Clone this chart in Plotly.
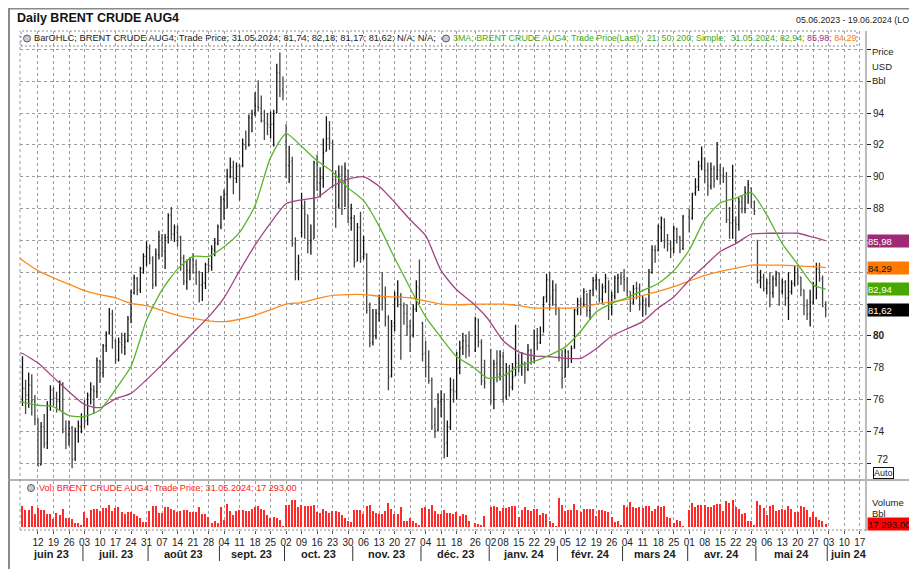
import numpy as np
import pandas as pd
import plotly.graph_objects as go

# page body has an 8px margin: work in page pixels, convert with offset
OX, OY = 8, 8
W, H = 917 - OX, 569 - OY

# ---------------- data ----------------
holidays = ["2023-12-25", "2024-01-01", "2024-03-29"]
trade_dates = pd.bdate_range("2023-06-05", "2024-05-31")
trade_dates = trade_dates[~trade_dates.isin(pd.to_datetime(holidays))]

opens = [
    # Jun 23
    76.10, 76.70, 76.30, 76.90, 75.90, 74.70, 71.90, 74.30, 73.30, 75.60, 76.60, 76.10, 75.90, 77.00, 74.20, 73.80, 74.20, 72.30, 74.00, 74.30,
    # Jul 23
    74.90, 74.70, 76.30, 76.60, 76.50, 78.40, 77.70, 79.40, 80.20, 81.40, 79.70, 78.50, 79.60, 79.30, 79.70, 81.20, 82.70, 83.60, 82.90, 84.20, 85.00,
    # Aug 23
    85.50, 84.80, 83.30, 85.10, 86.10, 85.30, 86.20, 87.60, 86.40, 86.50, 86.20, 84.90, 83.40, 84.10, 84.80, 84.50, 84.00, 83.20, 83.30, 84.50, 84.40, 85.40, 85.80,
    # Sep 23
    86.90, 88.60, 88.90, 90.00, 90.60, 89.90, 90.70, 90.70, 92.00, 92.00, 93.70, 94.00, 94.40, 94.30, 93.50, 93.40, 93.10, 93.30, 94.00, 96.50, 95.50,
    # Oct 23
    92.20, 90.70, 91.00, 85.80, 84.10, 86.50, 88.10, 87.60, 85.90, 86.10, 90.80, 89.60, 89.90, 91.60, 92.40, 92.10, 89.80, 88.20, 90.10, 88.00, 90.40, 87.40,
    # Nov 23
    87.40, 84.70, 86.80, 85.00, 85.10, 81.80, 79.60, 80.00, 81.40, 82.50, 82.40, 81.10, 77.50, 80.80, 82.40, 82.50, 81.90, 81.40, 80.60, 80.10, 81.70, 83.00,
    # Dec 23
    80.80, 78.90, 78.10, 77.20, 74.40, 74.10, 75.90, 76.00, 73.30, 74.30, 76.60, 76.50, 78.00, 79.30, 79.70, 79.40, 79.10, 81.00, 79.60, 77.20,
    # Jan 24
    77.10, 76.00, 78.30, 77.60, 78.70, 76.20, 77.60, 76.80, 77.50, 78.30, 78.20, 78.30, 77.90, 79.10, 78.60, 80.00, 79.60, 80.10, 82.50, 83.50, 82.50, 82.90,
    # Feb 24
    81.70, 78.80, 77.40, 79.00, 78.60, 79.30, 81.60, 82.20, 82.00, 82.80, 81.60, 82.90, 83.50, 83.50, 82.30, 83.10, 83.60, 81.80, 82.50, 83.60, 83.70,
    # Mar 24
    83.70, 83.40, 82.80, 82.10, 83.00, 83.00, 82.00, 82.20, 82.00, 84.00, 85.40, 85.40, 86.80, 87.30, 86.00, 85.80, 85.50, 86.70, 86.20, 85.50,
    # Apr 24
    87.50, 87.40, 89.00, 89.40, 90.70, 91.10, 90.40, 89.40, 90.50, 90.00, 90.40, 90.10, 90.00, 87.30, 87.10, 87.20, 87.00, 88.40, 88.00, 89.00, 89.30, 88.40,
    # May 24
    86.00, 83.50, 83.70, 83.00, 83.30, 82.70, 83.60, 83.90, 82.80, 83.40, 82.40, 82.80, 83.30, 84.00, 83.70, 82.90, 81.90, 81.40, 82.10, 83.20, 84.20, 83.60, 81.74,
]
highs = [
    78.73, 77.25, 77.70, 77.60, 76.30, 74.85, 74.60, 75.10, 75.90, 76.90, 76.80, 76.50, 77.20, 77.10, 74.70, 74.70, 74.35, 74.25, 74.70, 75.15,
    76.00, 76.45, 77.10, 76.90, 78.65, 78.50, 79.50, 80.30, 81.75, 81.65, 79.80, 79.90, 80.20, 80.20, 81.25, 82.90, 83.85, 83.70, 84.35, 85.20, 85.95,
    85.75, 85.00, 85.50, 86.60, 86.40, 86.40, 87.70, 88.10, 87.00, 86.95, 86.30, 85.10, 84.80, 84.95, 85.20, 84.80, 84.10, 84.00, 84.60, 84.90, 85.70, 86.15, 87.00,
    88.80, 89.20, 90.50, 91.20, 91.00, 90.90, 90.80, 92.40, 92.90, 93.90, 94.20, 95.30, 96.05, 95.10, 94.20, 94.00, 94.10, 94.20, 97.10, 97.80, 96.30,
    93.30, 91.95, 91.25, 86.20, 85.10, 89.00, 88.50, 87.60, 87.00, 91.00, 91.40, 90.60, 92.40, 93.80, 93.50, 92.30, 90.40, 90.70, 90.70, 90.90, 90.40, 88.30,
    87.60, 87.10, 87.80, 86.30, 85.20, 82.10, 81.70, 81.70, 82.60, 84.00, 83.10, 81.30, 81.00, 82.80, 83.50, 82.70, 82.10, 82.00, 81.00, 82.00, 83.50, 84.80,
    80.90, 79.70, 79.10, 77.40, 75.50, 76.40, 76.60, 76.40, 74.70, 77.40, 77.30, 79.00, 79.70, 80.20, 80.10, 80.30, 81.20, 81.10, 79.80, 78.50,
    79.20, 78.50, 79.10, 79.10, 79.00, 78.30, 78.20, 78.30, 80.70, 78.90, 79.00, 78.40, 79.50, 79.20, 80.40, 80.50, 80.60, 82.50, 83.90, 84.00, 83.50, 83.30,
    81.80, 79.10, 79.20, 79.10, 79.40, 81.70, 82.40, 82.40, 83.00, 82.70, 82.90, 83.70, 83.90, 83.60, 83.30, 83.90, 83.50, 82.80, 83.80, 83.90, 84.00,
    84.20, 83.70, 82.80, 83.20, 83.40, 83.30, 82.50, 82.40, 84.20, 85.70, 85.70, 87.00, 87.50, 87.40, 86.40, 86.00, 86.90, 86.80, 86.30, 87.60,
    88.00, 89.00, 89.90, 91.00, 91.90, 91.20, 90.90, 90.90, 90.70, 92.18, 90.80, 90.60, 90.30, 88.10, 90.75, 87.50, 88.70, 88.80, 89.40, 89.80, 89.30, 88.50,
    86.00, 84.15, 83.90, 83.60, 84.00, 83.80, 84.10, 84.00, 83.60, 83.50, 84.00, 83.50, 84.40, 84.30, 83.70, 82.90, 82.30, 82.90, 83.40, 84.60, 84.60, 83.80, 82.18,
]
lows = [
    75.60, 75.10, 75.50, 75.00, 74.40, 71.84, 71.90, 72.95, 72.90, 75.30, 75.60, 75.20, 75.30, 73.90, 72.90, 73.10, 71.70, 72.15, 73.30, 73.90,
    74.20, 74.40, 75.70, 75.10, 76.10, 77.05, 77.40, 79.00, 80.10, 79.20, 78.25, 78.40, 78.90, 78.80, 79.60, 80.80, 82.60, 82.55, 82.70, 83.90, 84.40,
    84.50, 82.95, 83.10, 84.80, 84.95, 84.20, 85.80, 86.05, 85.90, 85.60, 84.10, 83.20, 82.90, 83.50, 83.90, 83.20, 82.10, 82.20, 82.95, 84.00, 84.10, 85.00, 85.70,
    86.70, 87.30, 88.00, 89.90, 88.90, 89.60, 88.50, 90.60, 91.70, 91.90, 92.80, 93.80, 94.10, 93.40, 92.30, 92.60, 92.40, 91.90, 94.00, 95.00, 94.80,
    89.90, 89.60, 85.60, 83.50, 83.50, 86.20, 86.10, 85.20, 85.10, 86.10, 89.10, 88.70, 89.30, 91.60, 91.70, 89.30, 86.80, 88.00, 87.60, 88.10, 87.10, 86.60,
    84.30, 84.70, 84.60, 84.80, 81.40, 79.30, 79.40, 79.80, 80.90, 81.60, 80.60, 76.60, 77.40, 80.30, 81.80, 78.50, 80.70, 80.00, 79.00, 79.90, 81.50, 82.00,
    78.40, 77.40, 77.00, 74.10, 73.60, 74.00, 74.90, 72.30, 72.40, 74.10, 75.80, 76.00, 77.60, 78.80, 78.60, 78.70, 79.00, 79.30, 76.90, 76.70,
    75.70, 75.40, 77.10, 77.20, 75.80, 76.00, 76.20, 76.60, 77.50, 77.70, 77.50, 77.00, 77.80, 78.20, 78.30, 79.10, 79.50, 80.20, 82.10, 81.60, 81.90, 81.30,
    78.40, 76.70, 77.40, 78.00, 78.30, 79.20, 81.30, 81.30, 81.80, 81.20, 81.00, 82.50, 82.90, 82.10, 82.00, 82.70, 81.00, 81.30, 82.30, 82.70, 83.20,
    82.80, 82.50, 81.50, 82.00, 82.30, 81.60, 81.20, 81.30, 81.80, 83.90, 84.60, 85.30, 85.90, 85.50, 85.30, 84.90, 85.20, 85.80, 85.20, 85.40,
    86.50, 87.30, 88.80, 89.10, 90.40, 89.60, 88.80, 89.20, 89.30, 89.80, 89.50, 89.60, 87.10, 86.10, 86.10, 85.80, 86.60, 87.70, 87.70, 88.30, 88.00, 87.60,
    83.30, 83.00, 82.80, 82.60, 81.80, 82.40, 83.10, 81.90, 82.60, 81.90, 81.00, 82.60, 83.10, 83.20, 82.50, 81.30, 81.00, 80.60, 82.00, 82.30, 83.40, 81.80, 81.17,
]
closes = [
    76.71, 76.29, 76.95, 75.96, 74.79, 71.84, 74.29, 73.20, 75.67, 76.61, 76.09, 75.90, 77.12, 74.14, 73.85, 74.18, 72.26, 74.03, 74.34, 74.90,
    74.65, 76.25, 76.65, 76.52, 78.47, 77.69, 79.40, 80.11, 81.36, 79.87, 78.50, 79.63, 79.46, 79.64, 81.07, 82.74, 83.64, 82.92, 84.24, 84.99, 85.56,
    84.91, 83.20, 85.14, 86.24, 85.34, 86.17, 87.55, 86.40, 86.81, 86.21, 84.89, 83.45, 84.12, 84.80, 84.46, 84.03, 83.21, 83.36, 84.48, 84.42, 85.49, 85.86, 86.86,
    88.55, 88.90, 90.04, 90.60, 89.92, 90.65, 90.64, 92.06, 91.88, 93.70, 93.93, 94.43, 94.34, 93.53, 93.30, 93.27, 93.29, 93.96, 96.55, 95.38, 95.31,
    90.71, 90.92, 85.81, 84.07, 84.58, 88.15, 87.65, 85.82, 86.00, 90.89, 89.65, 89.90, 91.50, 92.38, 92.16, 89.83, 88.07, 90.13, 87.93, 90.48, 87.45, 87.41,
    84.63, 86.85, 84.89, 85.18, 81.61, 79.54, 80.01, 81.43, 82.52, 82.47, 81.18, 77.42, 80.61, 82.32, 82.45, 81.96, 81.42, 80.58, 79.98, 81.68, 83.10, 82.83,
    78.88, 78.03, 77.20, 74.30, 74.05, 75.84, 76.03, 73.24, 74.26, 76.61, 76.55, 77.95, 79.23, 79.70, 79.39, 79.07, 81.07, 79.65, 77.15, 77.04,
    75.89, 78.25, 77.59, 78.76, 76.12, 77.59, 76.80, 77.41, 78.29, 78.15, 78.29, 77.88, 79.10, 78.56, 80.06, 79.55, 80.04, 82.43, 83.55, 82.40, 82.87, 81.71,
    78.70, 77.33, 78.99, 78.59, 79.21, 81.63, 82.19, 82.00, 82.77, 81.60, 82.86, 83.47, 83.56, 82.34, 83.03, 83.67, 81.62, 82.53, 83.65, 83.68, 83.62,
    83.55, 82.80, 82.04, 82.96, 82.96, 82.08, 82.21, 81.92, 84.03, 85.42, 85.34, 86.89, 87.38, 85.95, 85.78, 85.43, 86.75, 86.25, 85.41, 87.48,
    87.42, 88.92, 89.35, 90.65, 91.17, 90.38, 89.42, 90.48, 89.74, 90.45, 90.10, 90.02, 87.29, 87.11, 87.29, 87.00, 88.42, 88.02, 89.01, 89.50, 88.40, 87.86,
    83.44, 83.67, 82.96, 83.33, 82.69, 83.58, 83.88, 82.79, 83.36, 82.38, 82.75, 83.27, 83.98, 83.71, 82.88, 81.90, 81.36, 82.12, 83.10, 84.22, 83.60, 81.86, 81.62,
]
volumes = [
    105000, 85000, 85000, 105000, 65000, 95000, 85000, 85000, 65000, 65000, 40000, 70000, 60000, 90000, 45000, 45000, 40000, 20000, 20000, 10000,
    75000, 45000, 85000, 90000, 90000, 80000, 95000, 95000, 110000, 80000, 95000, 100000, 75000, 65000, 75000, 75000, 65000, 55000, 45000, 25000, 25000,
    80000, 105000, 105000, 70000, 70000, 100000, 100000, 90000, 85000, 75000, 80000, 85000, 85000, 75000, 75000, 75000, 100000, 65000, 65000, 50000, 20000, 30000, 20000,
    100000, 35000, 115000, 80000, 60000, 80000, 85000, 85000, 80000, 80000, 90000, 100000, 105000, 90000, 85000, 60000, 45000, 50000, 45000, 35000, 5000,
    110000, 110000, 135000, 135000, 100000, 110000, 105000, 105000, 105000, 110000, 75000, 70000, 90000, 80000, 70000, 80000, 80000, 75000, 60000, 45000, 30000, 25000,
    85000, 85000, 85000, 65000, 105000, 110000, 80000, 70000, 65000, 65000, 80000, 120000, 90000, 65000, 65000, 100000, 30000, 30000, 45000, 30000, 20000, 10000,
    95000, 100000, 90000, 110000, 80000, 65000, 65000, 85000, 70000, 70000, 65000, 75000, 55000, 65000, 60000, 30000, 20000, 15000, 10000, 55000,
    100000, 105000, 100000, 80000, 95000, 95000, 100000, 105000, 105000, 50000, 85000, 100000, 85000, 80000, 90000, 90000, 60000, 70000, 65000, 30000, 20000, 5000,
    145000, 110000, 80000, 85000, 85000, 115000, 85000, 75000, 90000, 90000, 90000, 90000, 55000, 85000, 85000, 80000, 75000, 50000, 25000, 30000, 10000,
    110000, 100000, 125000, 100000, 95000, 100000, 95000, 105000, 105000, 80000, 90000, 105000, 100000, 105000, 50000, 45000, 20000, 35000, 30000, 5000,
    85000, 120000, 100000, 110000, 110000, 110000, 100000, 100000, 110000, 115000, 115000, 80000, 130000, 120000, 135000, 100000, 90000, 65000, 70000, 30000, 30000, 10000,
    130000, 110000, 95000, 60000, 105000, 110000, 80000, 85000, 90000, 85000, 105000, 90000, 75000, 75000, 105000, 100000, 85000, 50000, 75000, 50000, 35000, 30000, 17293,
]

# moving averages (weekly, plus left edge and last day)
ma_dates = (["2023-06-02"]
            + [d.strftime("%Y-%m-%d") for d in pd.date_range("2023-06-05", "2024-05-27", freq="W-MON")]
            + ["2024-05-31"])
ma21 = [75.9,
        75.85, 75.65, 75.55, 75.0, 74.95, 75.35, 76.65, 78.1, 81.0, 82.9, 84.2, 85.0, 85.0, 85.6, 86.5, 88.2,
        91.2, 92.7, 91.9, 91.0, 90.3, 89.3, 88.5, 86.9, 84.9, 83.0, 81.2, 79.9, 78.7, 78.1, 77.35, 77.5,
        78.1, 78.4, 78.8, 79.3, 80.3, 81.5, 82.05, 82.4, 82.85, 83.3, 84.1, 85.4, 87.3, 88.35, 88.65, 89.0,
        87.6, 85.8, 84.5, 83.2, 82.94]
ma50 = [78.95,
        78.9, 78.3, 77.4, 76.5, 75.7, 75.5, 76.05, 76.4, 77.25, 78.2, 79.2, 80.2, 81.2, 82.4, 84.1, 85.7,
        87.1, 88.3, 88.55, 88.7, 89.4, 89.85, 90.0, 89.4, 88.4, 87.3, 86.3, 84.1, 82.9, 82.1, 81.1, 79.7,
        79.0, 78.75, 78.7, 78.6, 78.6, 79.2, 80.0, 80.45, 80.9, 81.75, 82.45, 83.5, 84.4, 85.3, 85.8, 86.4,
        86.45, 86.45, 86.45, 86.2, 85.98]
ma200 = [84.9,
         84.75, 84.1, 83.65, 83.25, 82.85, 82.6, 82.4, 82.05, 81.9, 81.6, 81.3, 81.1, 80.95, 80.9, 81.05, 81.3,
         81.65, 82.0, 82.1, 82.35, 82.55, 82.6, 82.6, 82.5, 82.45, 82.4, 82.2, 82.0, 81.95, 82.0, 82.0, 82.0,
         81.9, 81.75, 81.75, 81.75, 81.8, 82.0, 82.15, 82.3, 82.55, 82.8, 83.1, 83.45, 83.8, 84.05, 84.25, 84.45,
         84.45, 84.45, 84.4, 84.35, 84.29]

price_ticks = [72, 74, 76, 78, 80, 82, 84, 86, 88, 90, 92, 94, 96, 98]
price_tick_text = ["", "74", "76", "78", "<b>80</b>", "", "", "", "88", "90", "92", "94", "", ""]
month_labels = ["juin 23", "juil. 23", "août 23", "sept. 23", "oct. 23", "nov. 23", "déc. 23",
                "janv. 24", "févr. 24", "mars 24", "avr. 24", "mai 24", "juin 24"]
month_starts = ["2023-06-05", "2023-07-03", "2023-08-01", "2023-09-01", "2023-10-02", "2023-11-01",
                "2023-12-01", "2024-01-02", "2024-02-01", "2024-03-01", "2024-04-01", "2024-05-01", "2024-06-03"]

# ---------------- helpers ----------------
ORIGIN = np.datetime64("2023-06-05")


def slot(d):
    return int(np.busday_count(ORIGIN, np.datetime64(pd.Timestamp(d).date())))


xs = [slot(d) for d in trade_dates]
ma_x = [slot(d) for d in ma_dates]

hol = set(pd.to_datetime(holidays))
tick_slots, tick_text = [], []
for mon in pd.date_range("2023-06-12", "2024-06-17", freq="W-MON"):
    d = mon + pd.Timedelta(days=1) if mon in hol else mon
    tick_slots.append(slot(d))
    tick_text.append(d.strftime("%d"))

XR = [-0.8, 272]


def py(p):
    return 1 - (p - OY) / H


def pxx(p):
    return (p - OX) / W


FONT = "Arial, Liberation Sans, sans-serif"
GRID = "#9c9c9c"
GDASH = "3px,3px"

fig = go.Figure()
fig.add_trace(go.Ohlc(
    x=xs, open=opens, high=highs, low=lows, close=closes,
    increasing=dict(line=dict(color="#111111", width=1.3)),
    decreasing=dict(line=dict(color="#444444", width=1.3)),
    tickwidth=0.3, xaxis="x", yaxis="y", showlegend=False, hoverinfo="skip"))
for vals, col in [(ma200, "#ff8a1c"), (ma50, "#a24486"), (ma21, "#5ab52a")]:
    fig.add_trace(go.Scatter(x=ma_x, y=vals, mode="lines", xaxis="x", yaxis="y",
                             line=dict(color=col, width=1.3, shape="spline", smoothing=0.6),
                             showlegend=False, hoverinfo="skip"))
fig.add_trace(go.Bar(x=xs, y=volumes, width=0.42, marker=dict(color="#ff2a2a", line=dict(width=0)),
                     xaxis="x2", yaxis="y2", showlegend=False, hoverinfo="skip"))

xdom = [pxx(20), pxx(866)]
fig.update_layout(
    width=W, height=H, margin=dict(l=0, r=0, t=0, b=0),
    paper_bgcolor="white", plot_bgcolor="white",
    font=dict(family=FONT, size=10, color="#222222"),
    showlegend=False, bargap=0,
    xaxis=dict(domain=xdom, range=XR, anchor="y", showticklabels=False, tickvals=tick_slots,
               showgrid=True, gridcolor=GRID, griddash=GDASH, gridwidth=1, zeroline=False,
               showline=False, ticks="", rangeslider=dict(visible=False)),
    yaxis=dict(domain=[py(479), py(31)], range=[71.02, 99.15], side="right", anchor="x",
               tickvals=price_ticks, ticktext=price_tick_text, showgrid=True, gridcolor=GRID,
               griddash=GDASH, gridwidth=1, ticks="outside", ticklen=4, tickcolor="#222222",
               tickfont=dict(size=10, color="#222222"), zeroline=False, showline=False),
    xaxis2=dict(domain=xdom, range=XR, anchor="y2", tickvals=tick_slots, ticktext=tick_text,
                tickangle=0, showgrid=True, gridcolor=GRID, griddash=GDASH, gridwidth=1, zeroline=False,
                showline=False, ticks="outside", ticklen=3, tickcolor="#555555",
                tickfont=dict(size=10, color="#222222")),
    yaxis2=dict(domain=[py(530), py(481)], range=[-15000, 230000], anchor="x2",
                showticklabels=False, showgrid=False, zeroline=False, ticks=""),
)

shapes = []
# outer frame lines (page x=8 / y=7)
shapes.append(dict(type="line", xref="paper", yref="paper", x0=pxx(8), x1=1, y0=py(8.5), y1=py(8.5),
                   line=dict(color="#8a8a8a", width=2)))
shapes.append(dict(type="line", xref="paper", yref="paper", x0=pxx(9), x1=pxx(9), y0=0, y1=1,
                   line=dict(color="#8a8a8a", width=2)))
# pane separator
shapes.append(dict(type="line", xref="paper", yref="paper", x0=pxx(8), x1=1, y0=py(480), y1=py(480),
                   line=dict(color="#9a9a9a", width=1.5)))
# right axis separator
shapes.append(dict(type="line", xref="paper", yref="paper", x0=pxx(866), x1=pxx(866), y0=py(531), y1=py(31),
                   line=dict(color="#bcbcbc", width=2)))
# left plot border
shapes.append(dict(type="line", xref="paper", yref="paper", x0=pxx(20), x1=pxx(20), y0=py(530), y1=py(31),
                   line=dict(color=GRID, width=1, dash=GDASH)))
# legend dashed box
shapes.append(dict(type="rect", xref="paper", yref="paper", x0=pxx(21), x1=pxx(857), y0=py(46), y1=py(31),
                   line=dict(color="#8a8a8a", width=1, dash="2px,2px")))
# bottom dotted axis line
shapes.append(dict(type="line", xref="paper", yref="paper", x0=pxx(20), x1=pxx(866), y0=py(530), y1=py(530),
                   line=dict(color="#8a8a8a", width=1, dash="2px,2px")))
# month separators
for ms in month_starts[1:]:
    s = slot(ms) - 0.5
    shapes.append(dict(type="line", xref="x2", yref="paper", x0=s, x1=s, y0=py(561), y1=py(546),
                       line=dict(color="#333333", width=1)))
# legend clock icons
for cx, cy in [(27, 38.5), (446, 38.5), (31, 488)]:
    shapes.append(dict(type="circle", xref="paper", yref="paper", x0=pxx(cx - 3.5), x1=pxx(cx + 3.5),
                       y0=py(cy + 3.5), y1=py(cy - 3.5), fillcolor="#c8ccd4",
                       line=dict(color="#555a66", width=1)))
fig.update_layout(shapes=shapes)

ann = []


def text(x, y, t, size=9, color="#222222", xanchor="left", **kw):
    ann.append(dict(x=pxx(x), y=py(y), xref="paper", yref="paper", text=t, showarrow=False,
                    xanchor=xanchor, yanchor="middle", font=dict(family=FONT, size=size, color=color), **kw))


text(15, 18, "<b>Daily BRENT CRUDE AUG4</b>", size=12.5, color="#111111")
text(794, 20, "05.06.2023 - 19.06.2024 (LOCAL)", size=8.8)
text(32, 38.5,
     "BarOHLC; BRENT CRUDE AUG4; Trade Price; 31.05.2024; 81,74; 82,18; 81,17; 81,62; N/A; N/A;", size=9.3)
text(451, 38.5,
     "<span style='color:#3faa10'>3MA; BRENT CRUDE AUG4; Trade Price(Last);&nbsp; 21; 50; 200; Simple;&nbsp; 31.05.2024; 82,94;</span>"
     " <span style='color:#a0307c'>85,98;</span> <span style='color:#ff7a00'>84,29</span>", size=8.9)
text(37, 488, "Vol; BRENT CRUDE AUG4; Trade Price; 31.05.2024; 17 293,00", size=9.1, color="#ff2020")
text(870, 52, "Price", size=9.5)
text(870, 66, "USD", size=9.5)
text(870, 80, "Bbl", size=9.5)
text(875, 459.5, "72", size=10)
text(870, 502, "Volume", size=9.5)
text(870, 513, "Bbl", size=9.5)
text(873, 473, "Auto", size=9, bordercolor="#111111", borderwidth=1, borderpad=0, bgcolor="white")

# value tags on the right scale
for val, lab, bg, fg, yr in [(85.98, "85,98", "#9c2a76", "white", "y"),
                             (84.29, "84,29", "#ff7b00", "#111111", "y"),
                             (82.94, "82,94", "#46a800", "white", "y"),
                             (81.62, "81,62", "black", "white", "y"),
                             (17293, "17 293,00", "#ff0000", "#111111", "y2")]:
    ann.append(dict(x=pxx(867), y=val, xref="paper", yref=yr, text=lab, showarrow=False,
                    xanchor="left", yanchor="middle", align="left", width=50, height=12,
                    bgcolor=bg, borderpad=0, font=dict(family=FONT, size=9.5, color=fg)))

# month labels
for i, lab in enumerate(month_labels):
    a = slot(month_starts[i]) - 0.5 if i > 0 else XR[0]
    if i + 1 < len(month_labels):
        b = slot(month_starts[i + 1]) - 0.5
        ann.append(dict(x=(a + b) / 2, y=py(553.5), xref="x2", yref="paper", text="<b>%s</b>" % lab,
                        showarrow=False, xanchor="center", yanchor="middle",
                        font=dict(family=FONT, size=11, color="#222222")))
    else:
        ann.append(dict(x=a + 0.3, y=py(553.5), xref="x2", yref="paper", text="<b>%s</b>" % lab,
                        showarrow=False, xanchor="left", yanchor="middle",
                        font=dict(family=FONT, size=11, color="#222222")))
fig.update_layout(annotations=ann)

fig.write_html("out.html")
